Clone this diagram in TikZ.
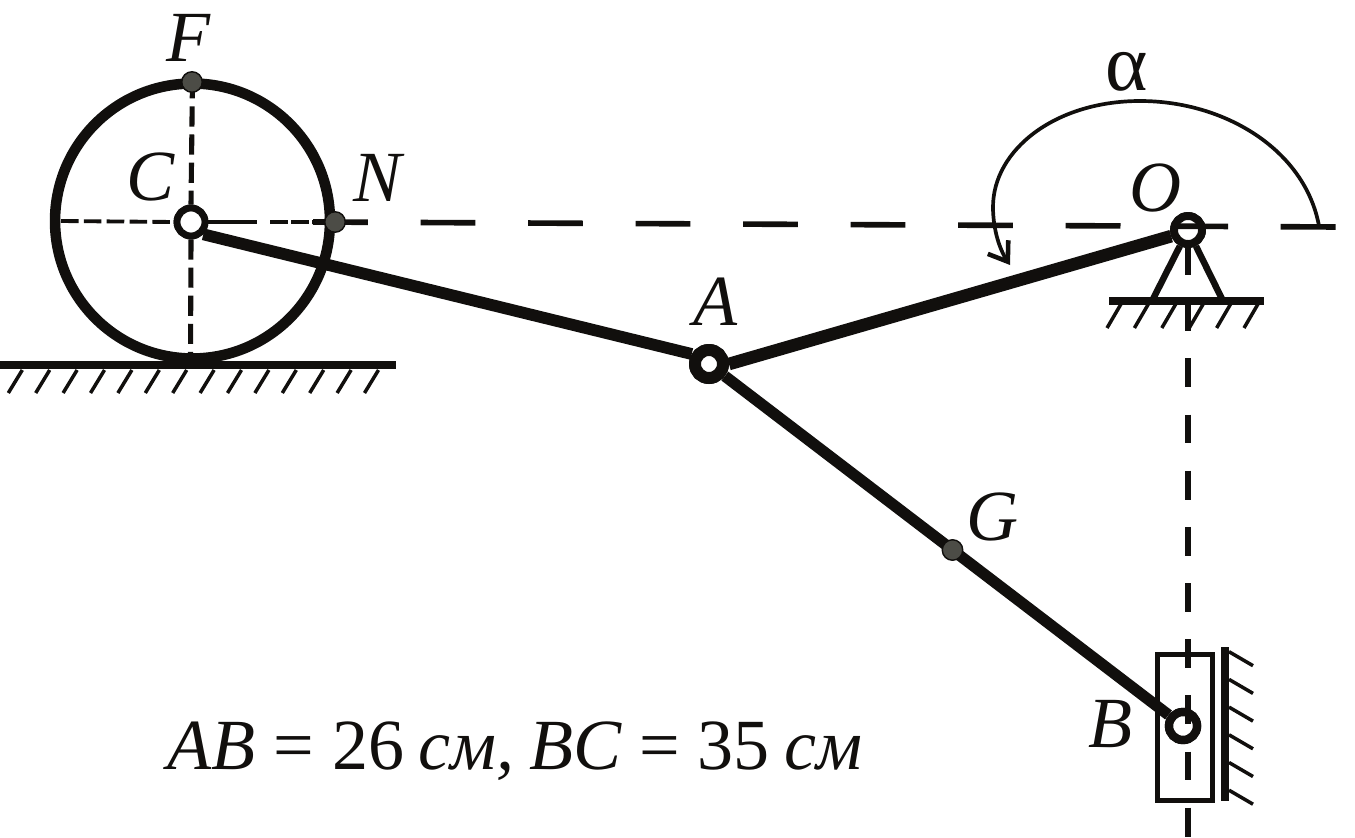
\documentclass[tikz,border=0pt]{standalone}
\usepackage{fontspec}
\setmainfont{Liberation Serif}
\usetikzlibrary{arrows.meta}
\definecolor{ink}{RGB}{17,15,13}
\definecolor{dotgray}{RGB}{76,76,70}
\begin{document}
\begin{tikzpicture}[x=.02cm,y=-.02cm,color=ink,
  pin node/.style={circle,draw,fill=white,inner sep=0pt,minimum size=.56cm,line width=#1},
  dot node/.style={circle,draw,fill=dotgray,inner sep=0pt,minimum size=.41cm,line width=.8pt},
  label node/.style={anchor=base,inner sep=0pt,font=\fontsize{41}{41}\selectfont\itshape},
  hatch/.style={line width=2pt},
  ground/.style={line width=4pt},
  thin dash/.style={line width=2.2pt},
  axis dash/.style={line width=3.2pt,dash pattern=on 31.2pt off 30pt},
  rod/.style={line width=#1}]

  \useasboundingbox (0,0) rectangle (1355,838);

  %Wheel and ground%
  \node[circle,draw,line width=6pt,inner sep=0pt,minimum size=5.5cm] (wheel) at (192.5,221) {};
  \coordinate (groundL) at (0,365);
  \coordinate (groundR) at (396,365);
  \draw[ground] (groundL) -- (groundR);
  \foreach \i in {0,...,13}
    \draw[hatch] (8.3+27.4*\i,393) -- ++(14,-23);

  %Pins and marked points%
  \node[pin node=3.9pt] (C) at (191,222) {};
  \node[pin node=6.8pt] (A) at (709,364) {};
  \node[pin node=4.5pt] (O) at (1188,230) {};
  \node[pin node=4.8pt] (B) at (1183,726) {};
  \coordinate (wheelL) at (61,221);
  \coordinate (wheelB) at (190.5,358);
  \coordinate (axisN) at (257,222);
  \coordinate (axisL) at (313,222);
  \coordinate (axisR) at (1339,227);
  \coordinate (vertT) at (1188,246);
  \coordinate (vertB) at (1188,838);

  %Support of O%
  \coordinate (baseL) at (1109,301);
  \coordinate (baseR) at (1264,301);
  \coordinate (legL) at (1152,301);
  \coordinate (legR) at (1223,301);
  \draw[rod=3.7pt] (O) -- (legL);
  \draw[rod=3.7pt] (O) -- (legR);
  \draw[ground] (baseL) -- (baseR);
  \foreach \i in {0,...,5}
    \draw[hatch] (1107+27.4*\i,328) -- ++(14,-24);

  %Slider and wall%
  \node[draw,line width=3.1pt,inner sep=0pt,minimum width=1.1cm,minimum height=2.92cm] (slider) at (1185,727.5) {};
  \coordinate (wallT) at (1225,647);
  \coordinate (wallB) at (1225,801);
  \draw[line width=4.5pt] (wallT) -- (wallB);
  \foreach \i in {0,...,5}
    \draw[hatch] (1229,651.7+27.7*\i) -- ++(24,14);

  %Rods%
  \draw[rod=6.7pt] (C.-45) -- (A.150);
  \draw[rod=7.2pt] (A.east) -- (O.200);
  \draw[rod=6.4pt] (A) -- (B);
  \node[pin node=3.9pt] at (C) {};
  \node[pin node=6.8pt] at (A) {};
  \node[pin node=4.5pt] at (O) {};
  \node[pin node=4.8pt] at (B) {};

  %Dashed axes%
  \draw[thin dash,dash pattern=on 10pt off 3pt] (wheelL) -- (C.west);
  \draw[thin dash] (C.east) -- (axisN);
  \draw[thin dash,dash pattern=on 10pt off 2pt] (axisN) ++(13,0) -- (axisL);
  \draw[line width=2.9pt,dash pattern=on 11.5pt off 4.5pt] (wheel.north) -- (C.north);
  \draw[line width=2.9pt,dash pattern=on 11.5pt off 4.5pt] (C.south) -- (wheelB);
  \draw[axis dash] (axisL) -- (axisR);
  \draw[line width=3.2pt,dash pattern=on 16.44pt off 15.53pt] (vertT) -- (vertB);

  \node[dot node] (F) at (192,82) {};
  \node[dot node] (N) at (335,222) {};
  \node[dot node] (G) at (952.5,550) {};

  %Angle alpha%
  \draw[line width=2.1pt,-{Straight Barb[length=10pt,width=14pt,line width=2.6pt]}]
    (1319,226) .. controls (1305,150) and (1225,101) .. (1140,101)
    .. controls (1055,101) and (993,150) .. (993,207)
    .. controls (993,230) and (1000,250) .. (1010,265);

  %Labels%
  \node[label node] (labF) at (188,62) {F};
  \node[label node] (labC) at (151,200) {C};
  \node[label node] (labN) at (378,201) {N};
  \node[label node] (labA) at (715,325) {A};
  \node[label node] (labO) at (1155,211) {O};
  \node[label node] (labG) at (992,540) {G};
  \node[label node] (labB) at (1110,747) {B};
  \node[label node,font=\fontsize{46}{46}\selectfont\upshape] (labAlpha) at (1127,91) {α};
  \node[label node] (given) at (515,769) {AB\hspace{.25em}{\upshape=\hspace{.25em}26}\hspace{.2em}см,\hspace{.2em}BC\hspace{.25em}{\upshape=\hspace{.25em}35}\hspace{.2em}см};
\end{tikzpicture}
\end{document}
